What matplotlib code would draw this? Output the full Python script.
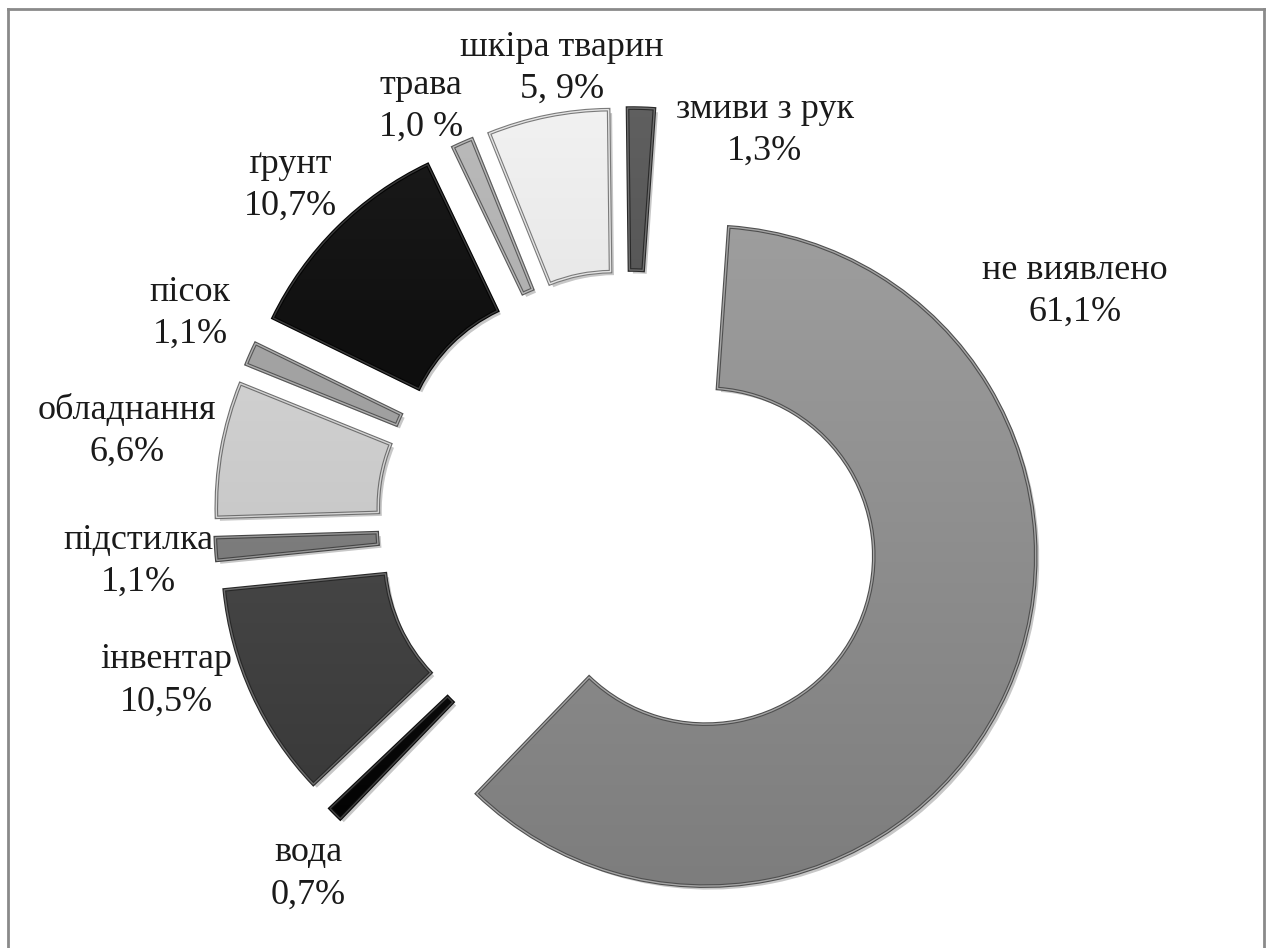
import numpy as np
import matplotlib
matplotlib.use('Agg')
import matplotlib.pyplot as plt
import matplotlib.patheffects as pe
from matplotlib.patches import PathPatch
from matplotlib.lines import Line2D
from matplotlib.colors import to_rgb

# sources of contamination, clockwise from 12 o'clock
sources = ['не виявлено', 'вода', 'інвентар', 'підстилка', 'обладнання',
           'пісок', 'ґрунт', 'трава', 'шкіра тварин', 'змиви з рук']
shares = [61.1, 0.7, 10.5, 1.1, 6.6, 1.1, 10.7, 1.0, 5.9, 1.3]
share_labels = ['61,1%', '0,7%', '10,5%', '1,1%', '6,6%',
                '1,1%', '10,7%', '1,0 %', '5, 9%', '1,3%']

colors = ['#8f8f8f', '#121212', '#474747', '#7d7d7d', '#c9c9c9',
          '#9b9b9b', '#070707', '#a6a6a6', '#dddddd', '#4b4b4b']

# label anchors in picture pixels (x centre, y of first line), y counted from the top
label_pos = [(1075, 270), (308, 853), (166, 660), (138, 540), (127, 410),
             (190, 292), (290, 164), (421, 85), (562, 47), (765, 109)]

W, H = 1270, 948
CX, CY = 629, 522          # donut centre in picture pixels
R = 330                    # outer radius
HOLE = 168                 # inner radius
EXPL = 84                  # explode distance
FONT = ['Liberation Serif', 'DejaVu Serif']

fig = plt.figure(figsize=(W / 100, H / 100), dpi=100)
ax = fig.add_axes([0, 0, 1, 1])

wedges, _ = ax.pie(shares, colors=colors, explode=[EXPL] * len(shares),
                   radius=R, center=(CX, H - CY), startangle=86,
                   counterclock=False, frame=True,
                   wedgeprops=dict(width=R - HOLE, linewidth=0))

# vertical light-to-dark gradient + bevel edge on each slice
ext = (CX - R - EXPL, CX + R + EXPL, H - CY - R - EXPL, H - CY + R + EXPL)
shade = np.linspace(0.08, -0.08, 300)[:, None, None]
for w, c in zip(wedges, colors):
    w.set_path_effects([pe.SimplePatchShadow(offset=(2.5, -2.5), shadow_rgbFace='k', alpha=0.22),
                        pe.Normal()])
    base = np.array(to_rgb(c))[None, None, :]
    img = np.clip(base + shade * np.ones((1, 2, 1)), 0, 1)
    im = ax.imshow(img, extent=ext, origin='upper', aspect='auto',
                   interpolation='bilinear', zorder=2)
    im.set_clip_path(w)
    dark = tuple(np.clip(np.array(to_rgb(c)) * 0.55, 0, 1))
    light = tuple(np.clip(np.array(to_rgb(c)) * 0.8 + 0.2, 0, 1))
    edge = PathPatch(w.get_path(), fc='none', ec=light, lw=1.0, zorder=3,
                     path_effects=[pe.Stroke(linewidth=2.6, foreground=dark), pe.Normal()])
    ax.add_patch(edge)

for name, lab, (x, y) in zip(sources, share_labels, label_pos):
    ax.text(x, H - y, name, ha='center', va='center', fontsize=26,
            family=FONT, color='#1a1a1a')
    ax.text(x, H - y - 42, lab, ha='center', va='center', fontsize=26,
            family=FONT, color='#1a1a1a')

ax.set_xlim(0, W)
ax.set_ylim(0, H)
ax.set_aspect('auto')
ax.axis('off')

# chart area border (bottom edge is cut off in the picture)
for xs, ys in [((8, 8), (0, H - 9)), ((8, 1264), (H - 9, H - 9)), ((1264, 1264), (H - 9, 0))]:
    fig.add_artist(Line2D(np.array(xs) / W, np.array(ys) / H, color='#8a8a8a', lw=2.0))

fig.savefig('out.png', dpi=100, facecolor='white')
